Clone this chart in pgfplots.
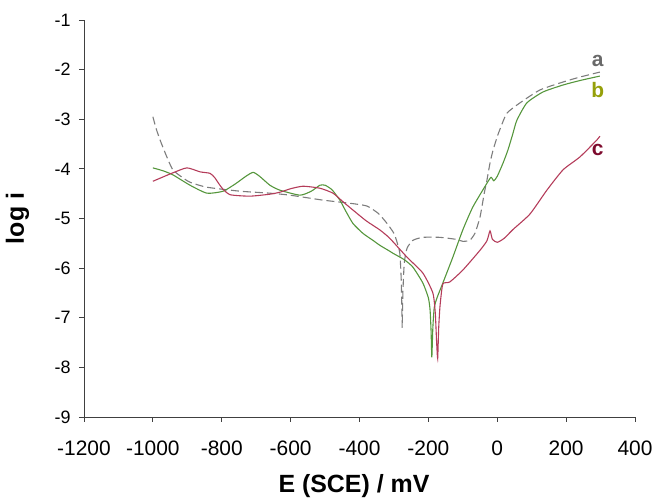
\documentclass[border=0pt]{standalone}
\usepackage{fontspec}
\setmainfont{Liberation Sans}
\usepackage{pgfplots}
\pgfplotsset{compat=1.18}
\usetikzlibrary{calc}
\definecolor{curvea}{RGB}{125,125,125}
\definecolor{curveb}{RGB}{85,150,60}
\definecolor{curvec}{RGB}{180,60,90}
\definecolor{laba}{RGB}{105,105,105}
\definecolor{labb}{RGB}{150,160,10}
\definecolor{labc}{RGB}{125,10,45}

\begin{document}
\begin{tikzpicture}
\begin{axis}[
  scale only axis,
  width=551bp, height=397bp,
  xmin=-1200, xmax=400, ymin=-9, ymax=-1,
  xtick={-1200,-1000,...,400},
  ytick={-9,-8,...,-1},
  axis x line=bottom, axis y line=left,
  axis line style={-, black!75, line width=0.8pt},
  tick align=outside,
  major tick length=5bp,
  tick style={black!75, line width=0.8pt},
  /pgf/number format/assume math mode=true,
  /pgf/number format/1000 sep={},
  xticklabel style={font=\fontsize{21}{23}\selectfont, anchor=base, yshift=-34bp},
  yticklabel style={font=\fontsize{18}{20}\selectfont, xshift=-5bp},
  xlabel={\textbf{E (SCE) / mV}},
  ylabel={\textbf{log i}},
  xlabel style={font=\fontsize{25}{27}\selectfont, at={(axis description cs:0.49,-0.1914)}, anchor=base},
  ylabel style={font=\fontsize{25}{27}\selectfont, at={(axis description cs:-0.109,0.5)}, anchor=base},
  clip=false,
]
% a : dashed grey
\addplot[curvea, line width=1.1pt, dash pattern=on 8bp off 4bp, smooth, tension=0.35] coordinates {
  (-1000,-2.95) (-990,-3.2) (-979,-3.42) (-960,-3.75) (-942,-4.02) (-915,-4.17)
  (-892,-4.27) (-843,-4.37) (-747,-4.45) (-660,-4.49) (-602,-4.53) (-506,-4.63)
  (-420,-4.70) (-378,-4.75) (-345,-4.9) (-320,-5.1) (-300,-5.3) (-290,-5.5)
  (-283,-5.7) (-279,-6.2) (-277,-6.8) (-276,-7.2) (-274,-6.5) (-270,-5.9)
  (-262,-5.6) (-245,-5.44) (-216,-5.38) (-166,-5.38) (-120,-5.42) (-100,-5.46)
  (-80,-5.44) (-65,-5.3) (-50,-4.97) (-38,-4.5) (-30,-4.23) (-21,-3.88)
  (-12,-3.62) (0,-3.35) (8,-3.2) (28,-2.88) (66,-2.67) (124,-2.41)
  (191,-2.25) (240,-2.15) (298,-2.05)
};
% b : green
\addplot[curveb, line width=1.1pt, smooth, tension=0.35] coordinates {
  (-1000,-3.98) (-970,-4.04) (-942,-4.12) (-892,-4.33) (-843,-4.49) (-796,-4.45)
  (-760,-4.30) (-730,-4.15) (-709,-4.07) (-690,-4.15) (-660,-4.33) (-631,-4.43)
  (-573,-4.53) (-540,-4.45) (-515,-4.33) (-500,-4.33) (-480,-4.42) (-457,-4.63)
  (-440,-4.85) (-419,-5.10) (-390,-5.30) (-361,-5.44) (-341,-5.54) (-312,-5.66)
  (-303,-5.70) (-270,-5.83) (-245,-5.98) (-216,-6.30) (-200,-6.6) (-195,-6.85)
  (-192,-7.3) (-190,-7.80) (-187,-7.2) (-183,-6.8) (-175,-6.6) (-158,-6.30)
  (-129,-5.78) (-100,-5.23) (-71,-4.77) (-30,-4.29) (-18,-4.17) (-10,-4.24)
  (0,-4.15) (17,-3.88) (31,-3.62) (45,-3.3) (57,-3.02) (86,-2.67)
  (133,-2.45) (191,-2.31) (240,-2.22) (298,-2.13)
};
% c : red
\addplot[curvec, line width=1.1pt, smooth, tension=0.35] coordinates {
  (-1000,-4.25) (-942,-4.08) (-901,-3.98) (-863,-4.06) (-834,-4.09) (-820,-4.18)
  (-800,-4.38) (-776,-4.52) (-718,-4.55) (-660,-4.51) (-631,-4.47) (-600,-4.40)
  (-564,-4.35) (-515,-4.39) (-477,-4.49) (-450,-4.65) (-419,-4.83) (-380,-5.05)
  (-341,-5.23) (-312,-5.40) (-262,-5.78) (-216,-6.10) (-187,-6.50) (-180,-6.9)
  (-176,-7.5) (-173,-7.82) (-170,-7.2) (-166,-6.75) (-158,-6.32) (-138,-6.28)
  (-100,-6.04) (-50,-5.64) (-30,-5.45) (-21,-5.25) (-14,-5.42) (0,-5.48)
  (20,-5.40) (46,-5.22) (95,-4.91) (144,-4.43) (191,-4.02) (240,-3.76)
  (289,-3.42) (298,-3.34)
};
\node[laba, font=\fontsize{21}{23}\selectfont\bfseries] at (axis cs:292,-1.82) {a};
\node[labb, font=\fontsize{21}{23}\selectfont\bfseries] at (axis cs:292,-2.42) {b};
\node[labc, font=\fontsize{21}{23}\selectfont\bfseries] at (axis cs:292,-3.62) {c};
\end{axis}
\path[use as bounding box] ($(current axis.south west)+(-84bp,-79bp)$) rectangle ($(current axis.north east)+(21bp,20bp)$);
\end{tikzpicture}
\end{document}
